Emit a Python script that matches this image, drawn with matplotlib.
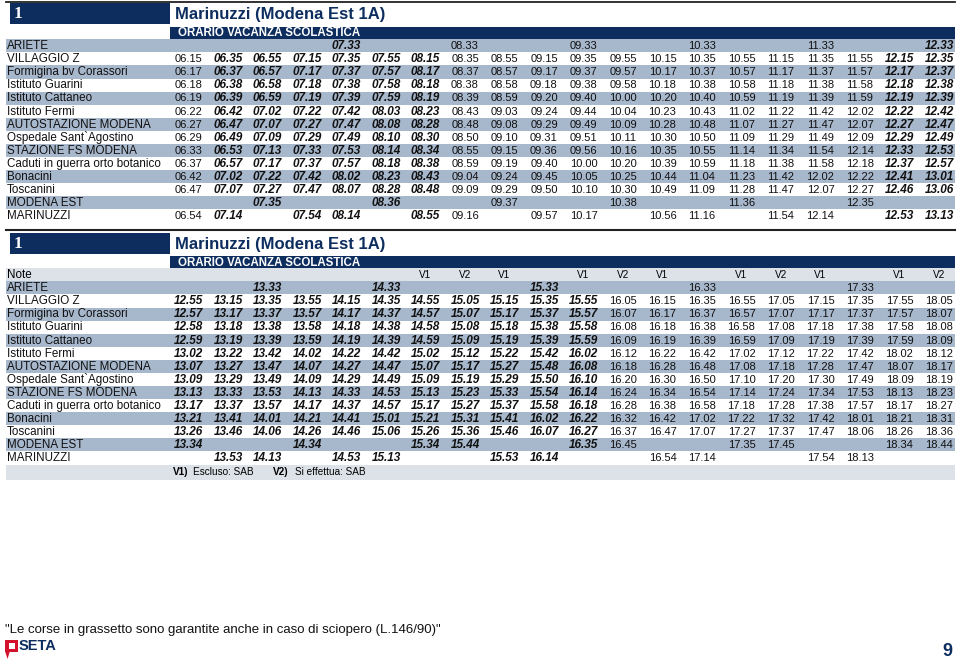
import matplotlib.pyplot as plt
from matplotlib.patches import Rectangle, Polygon

# ---- data ----
line_no = "1"
title = "Marinuzzi (Modena Est 1A)"
subtitle = "ORARIO VACANZA SCOLASTICA"

stops = ["ARIETE", "VILLAGGIO Z", "Formigina bv Corassori", "Istituto Guarini",
         "Istituto Cattaneo", "Istituto Fermi", "AUTOSTAZIONE MODENA",
         "Ospedale Sant`Agostino", "STAZIONE FS MODENA", "Caduti in guerra orto botanico",
         "Bonacini", "Toscanini", "MODENA EST", "MARINUZZI"]

# morning table (20 runs), "|" separates runs, empty = no stop
am_times = [
    "||||07.33|||08.33|||09.33|||10.33|||11.33|||12.33",
    "06.15|06.35|06.55|07.15|07.35|07.55|08.15|08.35|08.55|09.15|09.35|09.55|10.15|10.35|10.55|11.15|11.35|11.55|12.15|12.35",
    "06.17|06.37|06.57|07.17|07.37|07.57|08.17|08.37|08.57|09.17|09.37|09.57|10.17|10.37|10.57|11.17|11.37|11.57|12.17|12.37",
    "06.18|06.38|06.58|07.18|07.38|07.58|08.18|08.38|08.58|09.18|09.38|09.58|10.18|10.38|10.58|11.18|11.38|11.58|12.18|12.38",
    "06.19|06.39|06.59|07.19|07.39|07.59|08.19|08.39|08.59|09.20|09.40|10.00|10.20|10.40|10.59|11.19|11.39|11.59|12.19|12.39",
    "06.22|06.42|07.02|07.22|07.42|08.03|08.23|08.43|09.03|09.24|09.44|10.04|10.23|10.43|11.02|11.22|11.42|12.02|12.22|12.42",
    "06.27|06.47|07.07|07.27|07.47|08.08|08.28|08.48|09.08|09.29|09.49|10.09|10.28|10.48|11.07|11.27|11.47|12.07|12.27|12.47",
    "06.29|06.49|07.09|07.29|07.49|08.10|08.30|08.50|09.10|09.31|09.51|10.11|10.30|10.50|11.09|11.29|11.49|12.09|12.29|12.49",
    "06.33|06.53|07.13|07.33|07.53|08.14|08.34|08.55|09.15|09.36|09.56|10.16|10.35|10.55|11.14|11.34|11.54|12.14|12.33|12.53",
    "06.37|06.57|07.17|07.37|07.57|08.18|08.38|08.59|09.19|09.40|10.00|10.20|10.39|10.59|11.18|11.38|11.58|12.18|12.37|12.57",
    "06.42|07.02|07.22|07.42|08.02|08.23|08.43|09.04|09.24|09.45|10.05|10.25|10.44|11.04|11.23|11.42|12.02|12.22|12.41|13.01",
    "06.47|07.07|07.27|07.47|08.07|08.28|08.48|09.09|09.29|09.50|10.10|10.30|10.49|11.09|11.28|11.47|12.07|12.27|12.46|13.06",
    "||07.35|||08.36|||09.37|||10.38|||11.36|||12.35||",
    "06.54|07.14||07.54|08.14||08.55|09.16||09.57|10.17||10.56|11.16||11.54|12.14||12.53|13.13",
]
am_bold = [1, 2, 3, 4, 5, 6, 18, 19]

# afternoon table (20 runs)
pm_notes = "||||||V1|V2|V1||V1|V2|V1||V1|V2|V1||V1|V2"
pm_times = [
    "||13.33|||14.33||||15.33||||16.33||||17.33||",
    "12.55|13.15|13.35|13.55|14.15|14.35|14.55|15.05|15.15|15.35|15.55|16.05|16.15|16.35|16.55|17.05|17.15|17.35|17.55|18.05",
    "12.57|13.17|13.37|13.57|14.17|14.37|14.57|15.07|15.17|15.37|15.57|16.07|16.17|16.37|16.57|17.07|17.17|17.37|17.57|18.07",
    "12.58|13.18|13.38|13.58|14.18|14.38|14.58|15.08|15.18|15.38|15.58|16.08|16.18|16.38|16.58|17.08|17.18|17.38|17.58|18.08",
    "12.59|13.19|13.39|13.59|14.19|14.39|14.59|15.09|15.19|15.39|15.59|16.09|16.19|16.39|16.59|17.09|17.19|17.39|17.59|18.09",
    "13.02|13.22|13.42|14.02|14.22|14.42|15.02|15.12|15.22|15.42|16.02|16.12|16.22|16.42|17.02|17.12|17.22|17.42|18.02|18.12",
    "13.07|13.27|13.47|14.07|14.27|14.47|15.07|15.17|15.27|15.48|16.08|16.18|16.28|16.48|17.08|17.18|17.28|17.47|18.07|18.17",
    "13.09|13.29|13.49|14.09|14.29|14.49|15.09|15.19|15.29|15.50|16.10|16.20|16.30|16.50|17.10|17.20|17.30|17.49|18.09|18.19",
    "13.13|13.33|13.53|14.13|14.33|14.53|15.13|15.23|15.33|15.54|16.14|16.24|16.34|16.54|17.14|17.24|17.34|17.53|18.13|18.23",
    "13.17|13.37|13.57|14.17|14.37|14.57|15.17|15.27|15.37|15.58|16.18|16.28|16.38|16.58|17.18|17.28|17.38|17.57|18.17|18.27",
    "13.21|13.41|14.01|14.21|14.41|15.01|15.21|15.31|15.41|16.02|16.22|16.32|16.42|17.02|17.22|17.32|17.42|18.01|18.21|18.31",
    "13.26|13.46|14.06|14.26|14.46|15.06|15.26|15.36|15.46|16.07|16.27|16.37|16.47|17.07|17.27|17.37|17.47|18.06|18.26|18.36",
    "13.34|||14.34|||15.34|15.44|||16.35|16.45|||17.35|17.45|||18.34|18.44",
    "|13.53|14.13||14.53|15.13|||15.53|16.14|||16.54|17.14|||17.54|18.13||",
]
pm_bold = list(range(11))

footnotes = [("V1)", "Escluso: SAB"), ("V2)", "Si effettua: SAB")]
strike_note = '"Le corse in grassetto sono garantite anche in caso di sciopero (L.146/90)"'
page_no = "9"

# ---- style ----
NAVY = "#0c2d5e"
SHADE = "#a7b7cc"
LIGHT = "#dde2e9"
SANS = ["Liberation Sans", "DejaVu Sans"]
FS = 8.4
X0, X1 = 6, 955
COL0, COLW = 188.5, 39.5
ROW_H = 13.08

fig = plt.figure(figsize=(9.6, 6.62), dpi=100)
ax = fig.add_axes([0, 0, 1, 1])
ax.set_xlim(0, 960)
ax.set_ylim(662, 0)
ax.axis("off")


def header(y):
    ax.add_patch(Rectangle((10, y), 160, 21, color=NAVY, lw=0))
    ax.text(14, y + 11, line_no, color="white", fontsize=12.5, weight="bold",
            family=["Liberation Serif"], va="center")
    ax.text(175, y + 11.5, title, color=NAVY, fontsize=12, weight="bold",
            family=SANS, va="center")
    ax.add_patch(Rectangle((170, y + 23.5), X1 - 170, 12.5, color=NAVY, lw=0))
    ax.text(178, y + 30, subtitle, color="white", fontsize=8.3, weight="bold",
            family=SANS, va="center")


def body(y0, rows, bold_cols):
    for i, (stop, row) in enumerate(zip(stops, rows)):
        y = y0 + i * ROW_H
        if i % 2 == 0:
            ax.add_patch(Rectangle((X0, y), X1 - X0, ROW_H, color=SHADE, lw=0))
        yc = y + ROW_H / 2 + 0.3
        ax.text(7, yc, stop, fontsize=FS, family=SANS, va="center", color="#111111")
        for j, t in enumerate(row.split("|")):
            if not t:
                continue
            x = COL0 + j * COLW
            if j in bold_cols:
                ax.text(x, yc, t, fontsize=8.5, family=SANS, weight="bold",
                        style="italic", ha="center", va="center", color="#111111")
            else:
                ax.text(x, yc, t, fontsize=8.0, family=SANS, ha="center",
                        va="center", color="#111111")


# top table
ax.plot([X0, X1], [1.5, 1.5], color="#222222", lw=1.3)
header(3)
body(39.3, am_times, am_bold)
ax.plot([X0, X1], [229.5, 229.5], color="#222222", lw=1.5)

# bottom table
header(232.5)
ny = 268.3 + ROW_H / 2 + 0.3
ax.add_patch(Rectangle((X0, 268.3), X1 - X0, ROW_H, color=LIGHT, lw=0))
ax.text(7, ny, "Note", fontsize=FS, family=SANS, va="center")
for j, n in enumerate(pm_notes.split("|")):
    if n:
        ax.text(COL0 + j * COLW, ny, n, fontsize=7.2, family=SANS, ha="center", va="center")
body(268.3 + ROW_H, pm_times, pm_bold)
fy = 268.3 + 15 * ROW_H
ax.add_patch(Rectangle((X0, fy), X1 - X0, 480 - fy, color=LIGHT, lw=0))
for (kx, vx), (k, v) in zip([(173, 193), (273, 295)], footnotes):
    ax.text(kx, (fy + 480) / 2, k, fontsize=7.2, weight="bold", family=SANS, va="center")
    ax.text(vx, (fy + 480) / 2, v, fontsize=7.2, family=SANS, va="center")

# footer
ax.text(5, 630, strike_note, fontsize=9.5, family=SANS, va="center", color="#111111")
ax.add_patch(Rectangle((5, 640), 13, 12, color="#d3122e", lw=0))
ax.add_patch(Rectangle((8.5, 643), 6, 6, color="white", lw=0))
ax.add_patch(Polygon([(5, 651), (10, 651), (7.5, 659)], closed=True, color="#d3122e", lw=0))
ax.text(19, 646.5, "SETA", fontsize=10.5, weight="bold", family=SANS, color=NAVY, va="center")
ax.text(952, 651, page_no, fontsize=13, weight="bold", family=SANS, color=NAVY,
        va="center", ha="right")

fig.savefig("out.png", dpi=100)
